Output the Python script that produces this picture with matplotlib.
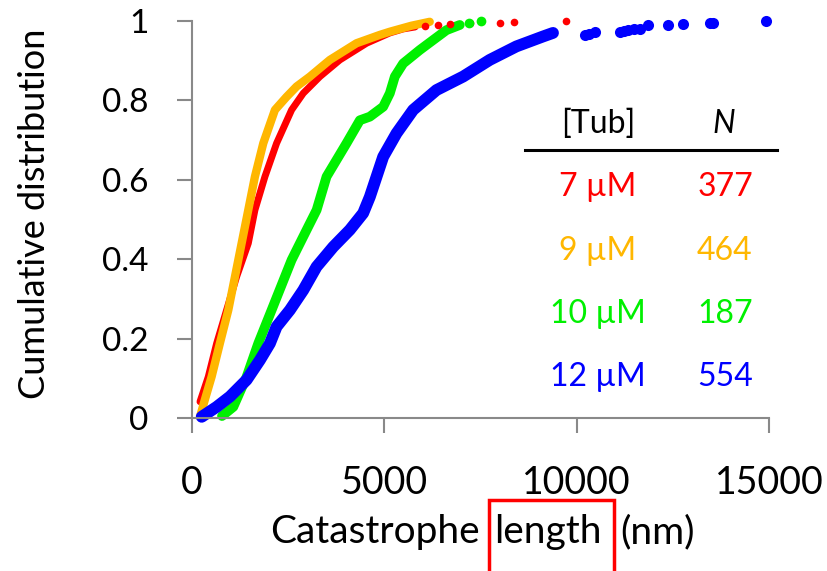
import matplotlib
matplotlib.use("Agg")
import matplotlib.pyplot as plt
from matplotlib.lines import Line2D
from matplotlib.patches import Rectangle

plt.rcParams['font.family'] = ['Lato', 'DejaVu Sans']

# 7 uM (red)
red_x = [208, 294, 424, 641, 900, 1160, 1463, 1636, 1896, 2199, 2589, 2892, 3325, 3844, 4537, 5143, 5489, 5800]
red_y = [0.041, 0.066, 0.104, 0.188, 0.272, 0.356, 0.44, 0.524, 0.608, 0.692, 0.776, 0.818, 0.86, 0.902, 0.944, 0.97, 0.98, 0.985]
red_tail_x = [6050, 6400, 6700, 7220, 8000, 8360, 9710]
red_tail_y = [0.987, 0.99, 0.992, 0.995, 0.996, 0.997, 1.0]

# 9 uM (orange)
orange_x = [208, 346, 510, 727, 944, 1117, 1290, 1463, 1636, 1853, 2156, 2459, 2719, 3065, 3584, 4277, 4883, 5143, 5700, 6180]
orange_y = [0.003, 0.05, 0.104, 0.189, 0.272, 0.356, 0.44, 0.524, 0.608, 0.692, 0.776, 0.809, 0.835, 0.86, 0.902, 0.944, 0.965, 0.973, 0.988, 0.998]

# 10 uM (green)
green_x = [780, 1074, 1420, 1723, 2070, 2243, 2416, 2589, 2805, 3022, 3240, 3498, 4017, 4364, 4623, 4970, 5143, 5273, 5489, 5922, 6268, 6615, 6961]
green_y = [0.005, 0.028, 0.104, 0.188, 0.272, 0.314, 0.356, 0.398, 0.44, 0.482, 0.524, 0.608, 0.692, 0.75, 0.759, 0.784, 0.818, 0.86, 0.893, 0.927, 0.952, 0.977, 0.99]
green_tail_x = [7200, 7520]
green_tail_y = [0.995, 1.0]

# 12 uM (blue)
blue_x = [252, 641, 987, 1420, 1766, 2026, 2199, 2545, 2892, 3238, 3671, 4104, 4450, 4623, 4970, 5316, 5749, 6355, 7048, 7740, 8433, 9125, 9385]
blue_y = [0.003, 0.028, 0.054, 0.096, 0.146, 0.188, 0.23, 0.272, 0.322, 0.381, 0.431, 0.474, 0.516, 0.557, 0.658, 0.717, 0.776, 0.826, 0.86, 0.902, 0.936, 0.961, 0.97]
blue_tail_x = [10210, 10330, 10470, 11120, 11220, 11340, 11500, 11640, 11850, 12370, 12760, 13460, 13540, 14930]
blue_tail_y = [0.965, 0.968, 0.972, 0.973, 0.975, 0.977, 0.979, 0.981, 0.99, 0.99, 0.992, 0.994, 0.996, 0.999]

concs = ['7 µM', '9 µM', '10 µM', '12 µM']
counts = ['377', '464', '187', '554']
colors = ['#FF0000', '#FFB700', '#00F000', '#0000FF']

xticks = [0, 5000, 10000, 15000]
yticks = [0, 0.2, 0.4, 0.6, 0.8, 1]
ytick_labels = ['0', '0.2', '0.4', '0.6', '0.8', '1']

W, H = 828, 571


def fx(p):
    return p / W


def fy(p):
    return 1 - p / H


fig = plt.figure(figsize=(W / 100, H / 100), dpi=100)
ax = fig.add_axes([fx(192), fy(418), (769 - 192) / W, (418 - 21) / H])

bodies = [(red_x, red_y, 5.0), (orange_x, orange_y, 6.0), (green_x, green_y, 7.0), (blue_x, blue_y, 8.5)]
for (x, y, lw), c in zip(bodies, colors):
    ax.plot(x, y, '-', color=c, lw=lw, solid_capstyle='round', solid_joinstyle='round', clip_on=False)

ax.plot(red_tail_x, red_tail_y, 'o', color=colors[0], ms=5.5, mec='none', clip_on=False)
ax.plot(green_tail_x, green_tail_y, 'o', color=colors[2], ms=7, mec='none', clip_on=False)
ax.plot(blue_tail_x, blue_tail_y, 'o', color=colors[3], ms=8, mec='none', clip_on=False)

ax.set_xlim(0, 15000)
ax.set_ylim(0, 1)
ax.set_xticks(xticks)
ax.set_xticklabels([str(t) for t in xticks])
ax.set_yticks(yticks)
ax.set_yticklabels(ytick_labels)

for s in ['top', 'right']:
    ax.spines[s].set_visible(False)
for s in ['left', 'bottom']:
    ax.spines[s].set_color('#898989')
    ax.spines[s].set_linewidth(1.5)

ax.tick_params(axis='both', direction='out', length=10.5, width=1.5, color='#898989')
ax.tick_params(axis='x', labelsize=27, pad=23)
ax.tick_params(axis='y', labelsize=24, pad=21)

fig.text(fx(35), fy(214), 'Cumulative distribution', rotation=90, ha='center', va='center', fontsize=26)

# x label, with the boxed word
fig.text(fx(480), fy(543), 'Catastrophe', ha='right', va='baseline', fontsize=28)
fig.text(fx(548), fy(543), 'length', ha='center', va='baseline', fontsize=28)
fig.text(fx(620), fy(543), '(nm)', ha='left', va='baseline', fontsize=28)
fig.add_artist(Rectangle((fx(489), fy(590)), (614.5 - 489) / W, (590 - 499.5) / H,
                         transform=fig.transFigure, fill=False, edgecolor='#FF0000', lw=2.5))

# table of conditions
fig.text(fx(598), fy(133), '[Tub]', ha='center', va='baseline', fontsize=23)
fig.text(fx(724), fy(133), 'N', ha='center', va='baseline', fontsize=23, style='italic')
fig.add_artist(Line2D([fx(525), fx(777)], [fy(150), fy(150)], transform=fig.transFigure, color='black', lw=2.2))
for i, (cn, n, c) in enumerate(zip(concs, counts, colors)):
    base = 196 + i * 63.5
    fig.text(fx(598), fy(base), cn, ha='center', va='baseline', fontsize=23, color=c)
    fig.text(fx(725), fy(base), n, ha='center', va='baseline', fontsize=23, color=c)

fig.savefig('out.png', dpi=100)
